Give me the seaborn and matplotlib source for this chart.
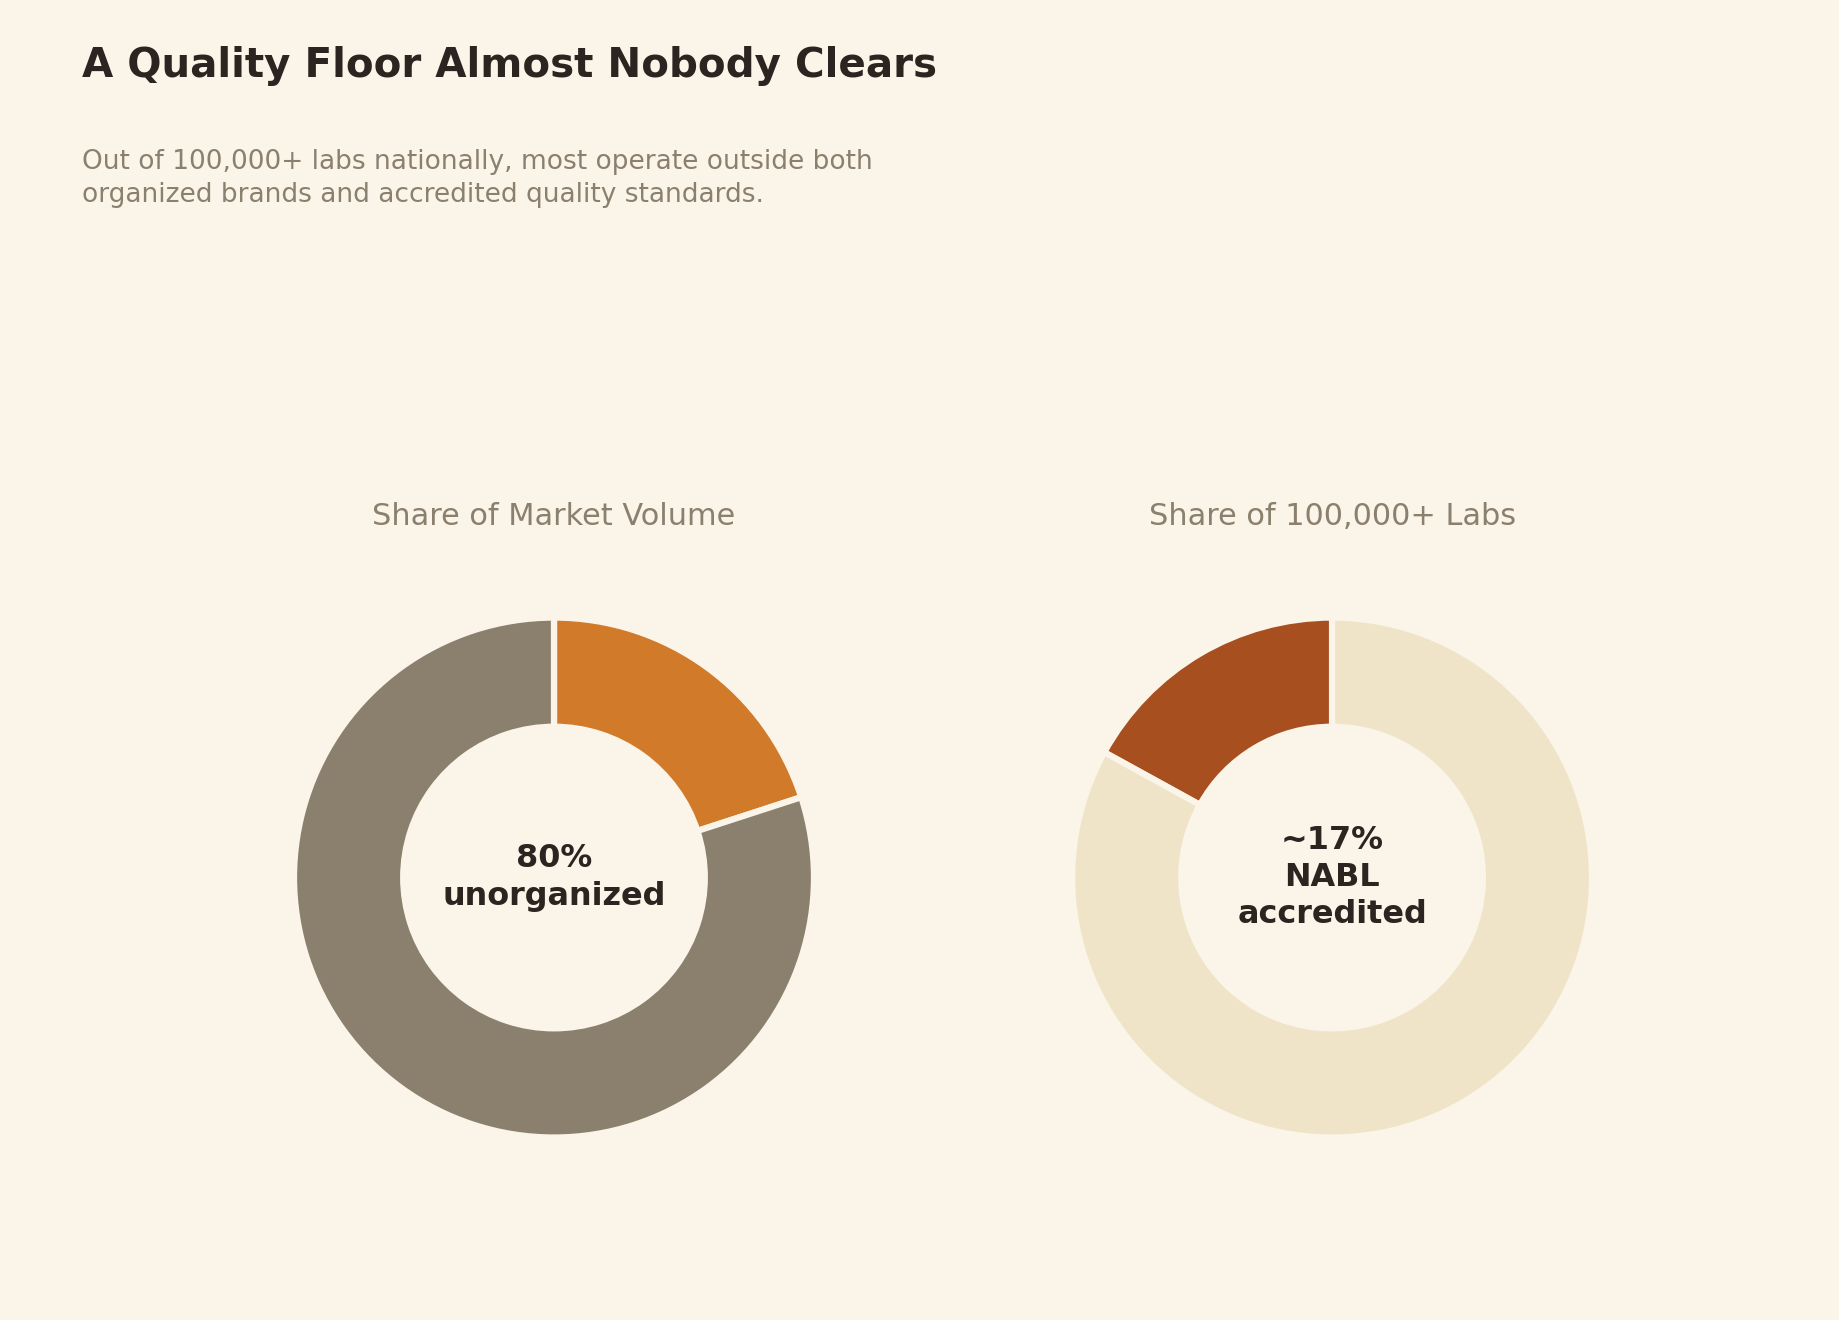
import matplotlib
matplotlib.use("Agg")
import matplotlib.pyplot as plt
import seaborn as sns

# data
volume_labels = ["Organized", "Unorganized"]
volume_share = [20, 80]
labs_labels = ["NABL accredited", "Not accredited"]
labs_share = [17, 83]

BG = "#FBF4E8"
DARK = "#2B2420"
MUTED = "#8B7F6E"

sns.set_theme(style="white")
plt.rcParams["font.family"] = ["DejaVu Sans"]

fig = plt.figure(figsize=(12.26, 8.8), dpi=150, facecolor=BG)

fig.text(0.0445, 0.9415, "A Quality Floor Almost Nobody Clears",
         fontsize=19.4, fontweight="bold", color=DARK, ha="left", va="baseline")
fig.text(0.0445, 0.887,
         "Out of 100,000+ labs nationally, most operate outside both\n"
         "organized brands and accredited quality standards.",
         fontsize=12.7, color=MUTED, ha="left", va="top", linespacing=1.34)

panels = [
    (0.1245, volume_share, ["#D17A2A", MUTED], False,
     "Share of Market Volume", "80%\nunorganized"),
    (0.5476, labs_share, ["#A84F1F", "#F0E4C8"], True,
     "Share of 100,000+ Labs", "~17%\nNABL\naccredited"),
]

for x0, values, colors, ccw, title, center in panels:
    ax = fig.add_axes([x0, 0.089, 0.3535, 0.4924])
    ax.set_facecolor(BG)
    ax.pie(values, colors=colors, startangle=90, counterclock=ccw,
           wedgeprops=dict(width=0.42, edgecolor=BG, linewidth=3))
    ax.set_xlim(-1.25, 1.25)
    ax.set_ylim(-1.25, 1.25)
    ax.set_aspect("equal")
    ax.set_title(title, fontsize=14.6, color=MUTED, pad=13)
    ax.text(0, 0, center, ha="center", va="center", fontsize=15.3,
            fontweight="bold", color=DARK, linespacing=1.26)

fig.savefig("out.png", dpi=150, facecolor=BG)
